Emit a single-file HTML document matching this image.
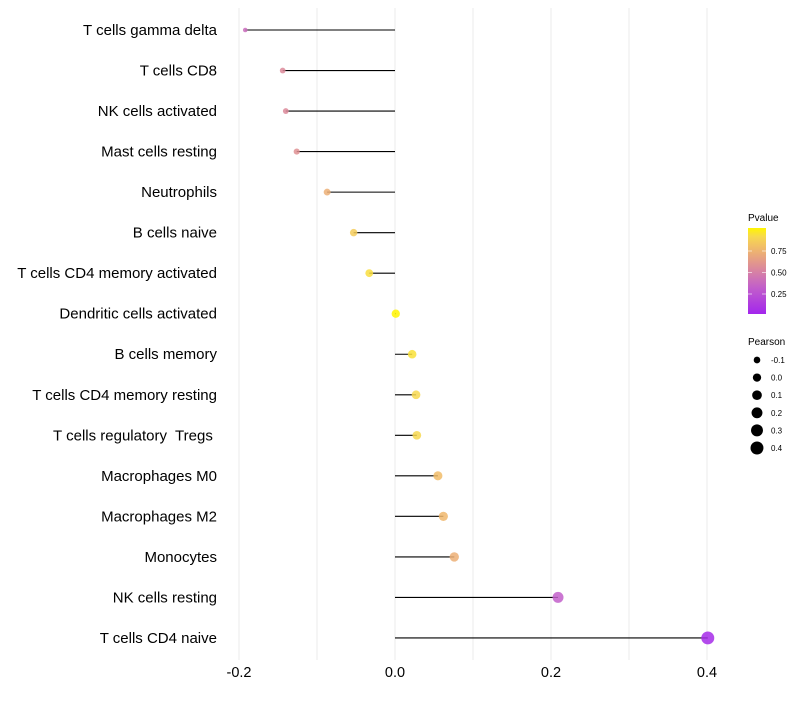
<!DOCTYPE html>
<html><head><meta charset="utf-8"><style>
body{margin:0;background:#fff;font-family:"Liberation Sans",sans-serif}
text{white-space:pre}
</style></head><body>
<svg id="c" width="800" height="700" xmlns="http://www.w3.org/2000/svg"></svg>
<script>
const cells=["T cells gamma delta","T cells CD8","NK cells activated","Mast cells resting","Neutrophils","B cells naive","T cells CD4 memory activated","Dendritic cells activated","B cells memory","T cells CD4 memory resting","T cells regulatory  Tregs ","Macrophages M0","Macrophages M2","Monocytes","NK cells resting","T cells CD4 naive"];
const pearson=[-0.192,-0.144,-0.140,-0.126,-0.087,-0.053,-0.033,0.001,0.022,0.027,0.028,0.055,0.062,0.076,0.209,0.401];
const pvals=[0.40,0.55,0.55,0.58,0.72,0.85,0.92,1.0,0.93,0.90,0.90,0.78,0.76,0.72,0.33,0.06];
const xTicks=[-0.2,0,0.2,0.4];
const xTickLabels=["-0.2","0.0","0.2","0.4"];
const minorTicks=[-0.1,0.1,0.3];
const pLegend=[0.25,0.5,0.75];
const pLegendLabels=["0.25","0.50","0.75"];
const sizeLegend=[-0.1,0,0.1,0.2,0.3,0.4];
const sizeLegendLabels=["-0.1","0.0","0.1","0.2","0.3","0.4"];

const svg=document.getElementById('c');
const NS="http://www.w3.org/2000/svg";
function el(t,a,p){const e=document.createElementNS(NS,t);for(const k in a)e.setAttribute(k,a[k]);(p||svg).appendChild(e);return e;}
const xs=v=>395+780*v;
const ys=i=>30+i*40.53;
const rs=v=>Math.sqrt(Math.max(2.2,17.2+62*v));
const stops=[[0,[160,32,240]],[0.35,[196,99,200]],[0.55,[220,138,154]],[0.75,[239,181,110]],[0.9,[247,216,80]],[1,[255,245,0]]];
function col(p){for(let i=1;i<stops.length;i++){if(p<=stops[i][0]){const a=stops[i-1],b=stops[i],t=(p-a[0])/(b[0]-a[0]);return 'rgb('+a[1].map((c,j)=>Math.round(c+(b[1][j]-c)*t)).join(',')+')';}}return 'rgb(255,245,0)';}

const grid=el('g',{});


[...xTicks,...minorTicks].forEach(v=>{el('line',{x1:xs(v),x2:xs(v),y1:8,y2:660,stroke:'#ebebeb','stroke-width':1},grid);});
xTicks.forEach((v,i)=>{const t=el('text',{x:xs(v),y:677,'text-anchor':'middle','font-size':14.5,fill:'#000'});t.textContent=xTickLabels[i];

});
cells.forEach((c,i)=>{
 const y=ys(i);
 const lb=el('text',{x:217,y:y+5,'text-anchor':'end','font-size':15,fill:'#000'});lb.textContent=c;
 
 
 const ln=el('line',{x1:xs(0),x2:xs(pearson[i]),y1:y,y2:y,stroke:'#000','stroke-width':1.1});
 
 
 const pt=el('circle',{cx:xs(pearson[i]),cy:y,r:rs(pearson[i]),fill:col(pvals[i]),'fill-opacity':0.85});
 
 
});
const ct=el('text',{x:748,y:221,'font-size':10});ct.textContent='Pvalue';


const defs=el('defs',{});const lg=el('linearGradient',{id:'pg',x1:0,y1:1,x2:0,y2:0},defs);
for(let k=0;k<=10;k++){const p=0.03+0.97*k/10;el('stop',{offset:k/10,'stop-color':col(p)},lg);}
const bar=el('rect',{x:748,y:228,width:18,height:86,fill:'url(#pg)'});


const py=p=>315.5-86*p;
pLegend.forEach((p,i)=>{el('line',{x1:748,x2:752,y1:py(p),y2:py(p),stroke:'#fff','stroke-opacity':0.6});el('line',{x1:762,x2:766,y1:py(p),y2:py(p),stroke:'#fff','stroke-opacity':0.6});
 const t=el('text',{x:771,y:py(p)+3,'font-size':8});t.textContent=pLegendLabels[i];
 
 });
const st=el('text',{x:748,y:345,'font-size':10});st.textContent='Pearson';


sizeLegend.forEach((v,i)=>{const y=360+i*17.6;
 const c=el('circle',{cx:757,cy:y,r:rs(v),fill:'#000'});
 
 
 const t=el('text',{x:771,y:y+3,'font-size':8});t.textContent=sizeLegendLabels[i];
 
 });
</script>
</body></html>
